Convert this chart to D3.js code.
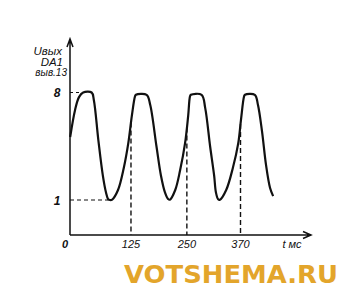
<!DOCTYPE html>
<html>
<head>
<meta charset="utf-8">
<script src="https://cdn.jsdelivr.net/npm/d3@7"></script>
<style>
body{margin:0;background:#fff;}
text{font-family:"Liberation Sans",Arial,sans-serif;font-style:italic;fill:#111;}
</style>
</head>
<body>
<div id="chart"></div>
<script>
// waveform: time (ms) and output voltage (V)
var times = [-11,-0.2,8.7,18,37,42,52,62,69,74,78,83,96,109,119,127,134,136,160,168,182,192,201,208,212,224,235,246,253,257,259,283,291,302,311,315,320,324,338,353,365,371,378,380,402,409,418,427,436,443];
var volts = [5.1,6.85,7.7,8,8,7.5,4.9,2.6,1.5,1.05,1,1.03,1.65,3.1,4.7,6.5,7.75,7.85,7.85,7.2,4.5,2.6,1.5,1.07,1.02,1.65,2.95,4.7,6.5,7.75,7.85,7.85,7.0,4.5,2.6,1.5,1.05,1.02,1.65,3.1,4.7,6.2,7.75,7.85,7.85,7.2,5.5,3.3,1.8,1.25];
var markTimes = [125,250,370];
var markLabels = ["125","250","370"];
var levelVals = [8,1];
var levelLabels = ["8","1"];
var yTitle = ["Uвых","DA1","выв.13"];

function init(){
    var w = 345, h = 295;
    var axisX = 70, axisY = 235;

    var xScale = d3.scaleLinear()
                    .domain([0,370])
                    .range([75.1,240.5]);
    var yScale = d3.scaleLinear()
                    .domain([1,8])
                    .range([200,92.5]);

    var svg = d3.select("#chart")
            .append("svg")
            .attr("width",w)
            .attr("height",h);

    var data = times.map(function(t,i){ return {t:t, v:volts[i]}; });

    // value on the curve at a given time (linear between read points)
    function valueAt(t){
        for (var i=1;i<data.length;i++){
            if (data[i].t>=t){
                var a=data[i-1], b=data[i];
                return a.v+(b.v-a.v)*(t-a.t)/(b.t-a.t);
            }
        }
        return data[data.length-1].v;
    }

    // dashed guides
    markTimes.forEach(function(t){
        svg.append("line")
            .attr("x1",xScale(t)).attr("x2",xScale(t))
            .attr("y1",yScale(valueAt(t))).attr("y2",axisY)
            .attr("stroke","#111").attr("stroke-width",1.4)
            .attr("stroke-dasharray","5,3");
    });
    svg.append("line")
        .attr("x1",axisX).attr("x2",xScale(18))
        .attr("y1",yScale(8)).attr("y2",yScale(8))
        .attr("stroke","#111").attr("stroke-width",1.2).attr("stroke-dasharray","3,3");
    svg.append("line")
        .attr("x1",axisX).attr("x2",xScale(74))
        .attr("y1",yScale(1)).attr("y2",yScale(1))
        .attr("stroke","#111").attr("stroke-width",1.2).attr("stroke-dasharray","4,3");

    // axes with arrows
    svg.append("path")
        .attr("d","M"+axisX+","+axisY+"V40M"+(axisX-3)+",47L"+axisX+",39L"+(axisX+3)+",47")
        .attr("fill","none").attr("stroke","#111").attr("stroke-width",1.5);
    svg.append("path")
        .attr("d","M"+axisX+","+axisY+"H311M303,231.5L311,235L303,238.5")
        .attr("fill","none").attr("stroke","#111").attr("stroke-width",1.5);

    // curve
    var line = d3.line()
                .x(function(d){ return xScale(d.t); })
                .y(function(d){ return yScale(d.v); })
                .curve(d3.curveCatmullRom.alpha(0.5));
    svg.append("path")
        .datum(data)
        .attr("d",line)
        .attr("fill","none")
        .attr("stroke","#111")
        .attr("stroke-width",2.2)
        .attr("stroke-linejoin","round");

    // tick labels
    svg.selectAll(".ylab")
        .data(levelVals)
        .enter()
        .append("text")
        .attr("x",57)
        .attr("y",function(d){ return yScale(d)+4.5; })
        .attr("text-anchor","middle")
        .attr("font-size",12)
        .attr("font-weight","bold")
        .text(function(d,i){ return levelLabels[i]; });

    svg.selectAll(".xlab")
        .data(markTimes)
        .enter()
        .append("text")
        .attr("x",function(d){ return xScale(d); })
        .attr("y",248)
        .attr("text-anchor","middle")
        .attr("font-size",11)
        .text(function(d,i){ return markLabels[i]; });

    svg.append("text").attr("x",65).attr("y",248)
        .attr("text-anchor","middle").attr("font-size",11).attr("font-weight","bold").text("0");
    svg.append("text").attr("x",292).attr("y",248)
        .attr("text-anchor","middle").attr("font-size",11).text("t мс");

    // y title
    svg.append("text").attr("x",62).attr("y",55).attr("text-anchor","end").attr("font-size",11.5).text(yTitle[0]);
    svg.append("text").attr("x",63).attr("y",66).attr("text-anchor","end").attr("font-size",11.5).text(yTitle[1]);
    svg.append("text").attr("x",67).attr("y",76).attr("text-anchor","end").attr("font-size",10).text(yTitle[2]);

    // watermark
    svg.append("text")
        .attr("x",124).attr("y",283)
        .attr("font-size",24)
        .attr("font-weight","bold")
        .style("font-style","normal")
        .style("font-family","'DejaVu Sans',sans-serif")
        .style("fill","#e3a52b")
        .attr("textLength",214)
        .attr("lengthAdjust","spacingAndGlyphs")
        .text("VOTSHEMA.RU");
}

window.onload=init;
</script>
</body>
</html>
